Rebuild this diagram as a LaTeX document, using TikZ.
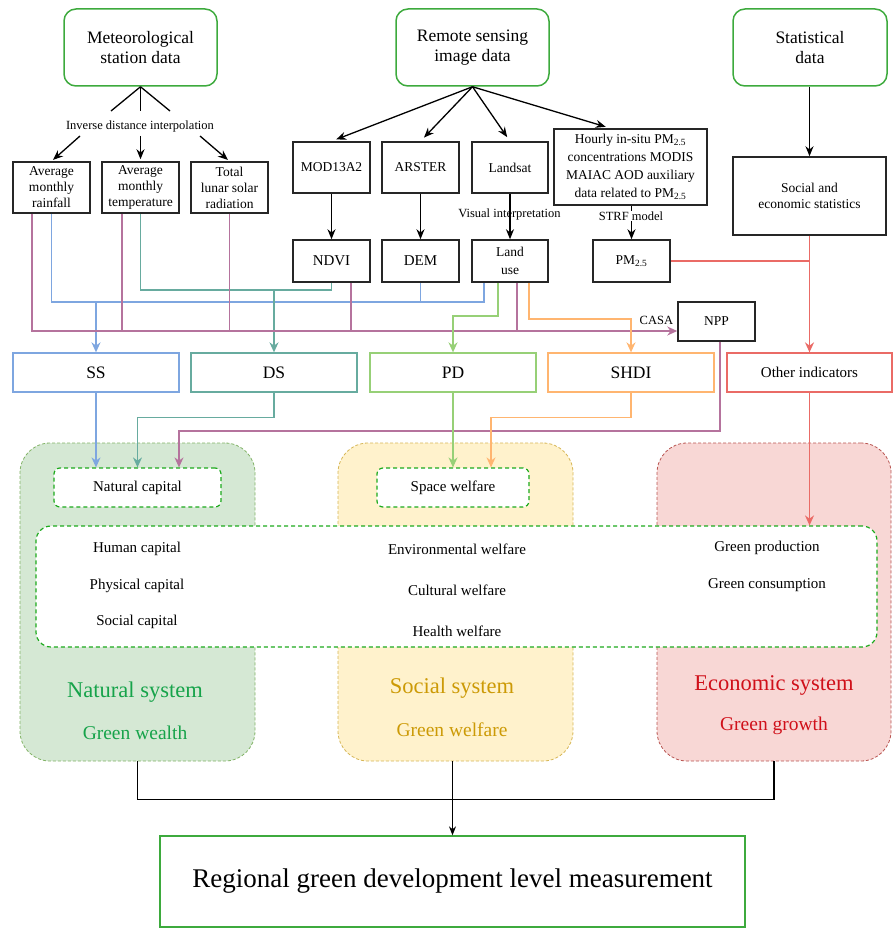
\documentclass[tikz,border=0pt]{standalone}
\usepackage{fontspec}
\setmainfont{Liberation Serif}
\usetikzlibrary{arrows.meta,calc}
\definecolor{gbox}{HTML}{3DAA3D}
\definecolor{gdash}{HTML}{1DAA1D}
\definecolor{cbl}{HTML}{7EA6E0}
\definecolor{ctl}{HTML}{67AB9F}
\definecolor{cpl}{HTML}{B5739D}
\definecolor{cgl}{HTML}{97D077}
\definecolor{col}{HTML}{FFB570}
\definecolor{crl}{HTML}{EA6B66}
\definecolor{natf}{HTML}{D5E8D4}
\definecolor{natd}{HTML}{82B366}
\definecolor{socf}{HTML}{FFF2CC}
\definecolor{socd}{HTML}{D6B656}
\definecolor{ecof}{HTML}{F8D7D5}
\definecolor{ecod}{HTML}{B85450}
\definecolor{natt}{HTML}{16A34A}
\definecolor{soct}{HTML}{CC9A06}
\definecolor{ecot}{HTML}{D0101A}
\newcommand{\fsz}[2]{\fontsize{#1}{#2}\selectfont}
\begin{document}
\begin{tikzpicture}[x=1pt,y=-1pt,
  topbox/.style={draw=gbox, line width=1.5pt, rounded corners=12pt, align=center, inner sep=0pt, font=\fsz{17.5}{20}},
  bbox/.style={draw=black!85, line width=1.5pt, align=center, inner sep=0pt, font=\fsz{13.5}{16}},
  indbox/.style={line width=1.3pt, align=center, inner sep=0pt, minimum width=166pt, minimum height=39pt, font=\fsz{17.5}{20}},
  sysbox/.style={dashed, dash pattern=on 3pt off 2pt, line width=0.8pt, rounded corners=30pt, minimum width=235pt, minimum height=318pt, inner sep=0pt},
  gdbox/.style={draw=gdash, dashed, dash pattern=on 4pt off 3pt, line width=1.2pt, fill=white, inner sep=0pt, font=\fsz{15}{18}},
  lbl/.style={inner sep=1pt, font=\fsz{12.5}{14}},
  intxt/.style={inner sep=0pt, font=\fsz{15}{18}},
  k/.style={draw=black, line width=1.3pt},
  arr/.style={-{Stealth[length=10pt,width=8pt]}},
  carr/.style={-{Stealth[length=10pt,width=9pt]}},
  cl/.style={line width=1.5pt}
]
\useasboundingbox (0,0) rectangle (893,928);

% ---------- system boxes ----------
\node[sysbox, draw=natd, fill=natf] (nat) at (137.5,602) {};
\node[sysbox, draw=socd, fill=socf] (socsys) at (455.5,602) {};
\node[sysbox, draw=ecod, fill=ecof, minimum width=234pt] (eco) at (774,602) {};
\node[gdbox, rounded corners=15pt, minimum width=841pt, minimum height=121pt] (mid) at (456.5,586.5) {};
\node[gdbox, rounded corners=6pt, minimum width=167pt, minimum height=39pt] (natcap) at (137.5,487.5) {Natural capital};
\node[gdbox, rounded corners=6pt, minimum width=152pt, minimum height=39pt] (spw) at (453,487.5) {Space welfare};

\node[intxt] (hc) at (137,549) {Human capital};
\node[intxt] (pc) at (137,586) {Physical capital};
\node[intxt] (sc) at (137,622) {Social capital};
\node[intxt] (ew) at (457,549) {Environmental welfare};
\node[intxt] (cw) at (457,590) {Cultural welfare};
\node[intxt] (hw) at (457,631) {Health welfare};
\node[intxt] (gp) at (767,548) {Green production};
\node[intxt] (gc) at (767,585) {Green consumption};

\node[inner sep=0pt, text=natt, font=\fsz{22.5}{26}] (nst) at (135,692) {Natural system};
\node[inner sep=0pt, text=natt, font=\fsz{19.5}{22}] (ngw) at (135,733) {Green wealth};
\node[inner sep=0pt, text=soct, font=\fsz{22.5}{26}] (sst) at (452,688) {Social system};
\node[inner sep=0pt, text=soct, font=\fsz{19.5}{22}] (sgw) at (452,730) {Green welfare};
\node[inner sep=0pt, text=ecot, font=\fsz{22.5}{26}] (est) at (774,685) {Economic system};
\node[inner sep=0pt, text=ecot, font=\fsz{19.5}{22}] (egg) at (774,726) {Green growth};

\node[draw=gbox, line width=1.3pt, minimum width=585pt, minimum height=91pt, inner sep=0pt, font=\fsz{27}{30}] (reg) at (452.5,881.5) {Regional green development level measurement};

% ---------- top ----------
\node[topbox, minimum width=153pt, minimum height=77pt] (met) at (140.5,47.5) {Meteorological\\station data};
\node[topbox, minimum width=153pt, minimum height=77pt] (rs) at (472.5,47.5) {Remote sensing\\image data};
\node[topbox, minimum width=154pt, minimum height=77pt] (stat) at (810,47.5) {Statistical\\data};

\node[lbl] (idi) at (140,126) {Inverse distance interpolation};
\node[bbox, minimum width=77pt, minimum height=51pt] (rain) at (51.5,187.5) {Average\\monthly\\rainfall};
\node[bbox, minimum width=77pt, minimum height=51pt] (temp) at (140.5,187.5) {Average\\monthly\\temperature};
\node[bbox, minimum width=77pt, minimum height=51pt] (rad) at (229.5,187.5) {Total\\lunar solar\\radiation};

\node[bbox, minimum width=77pt, minimum height=51pt] (mod) at (331.5,167.5) {MOD13A2};
\node[bbox, minimum width=77pt, minimum height=51pt] (ars) at (420.5,167.5) {ARSTER};
\node[bbox, minimum width=76pt, minimum height=51pt] (lsat) at (510,167.5) {Landsat};
\node[bbox, minimum width=153pt, minimum height=76pt, font=\fsz{13.5}{18}] (hour) at (630.5,167) {Hourly in-situ PM\textsubscript{2.5}\\concentrations MODIS\\MAIAC AOD auxiliary\\data related to PM\textsubscript{2.5}};
\node[bbox, minimum width=153pt, minimum height=78pt] (soc) at (809.5,196) {Social and\\economic statistics};

\node[bbox, minimum width=77pt, minimum height=42pt, font=\fsz{15}{18}] (ndvi) at (331.5,261) {NDVI};
\node[bbox, minimum width=77pt, minimum height=42pt, font=\fsz{15}{18}] (dem) at (420.5,261) {DEM};
\node[bbox, minimum width=76pt, minimum height=42pt, font=\fsz{13.5}{18}] (lu) at (510,261) {Land\\use};
\node[bbox, minimum width=77pt, minimum height=42pt] (pm) at (631.5,261) {PM\textsubscript{2.5}};
\node[bbox, minimum width=77pt, minimum height=39pt] (npp) at (716.5,321.5) {NPP};
\node[lbl, anchor=east] (casa) at ($(npp.west)+(-3,-1)$) {CASA};

\node[indbox, draw=cbl] (ss) at (96,372.5) {SS};
\node[indbox, draw=ctl] (ds) at (274,372.5) {DS};
\node[indbox, draw=cgl] (pd) at (453,372.5) {PD};
\node[indbox, draw=col] (shdi) at (631,372.5) {SHDI};
\node[indbox, draw=crl, minimum width=165pt, font=\fsz{15}{18}] (oth) at (809.5,372.5) {Other indicators};

% ---------- black connectors ----------
\coordinate (i1) at (111,111);
\coordinate (i2) at (140.5,111);
\coordinate (i3) at (170,111);
\draw[k] (met.south) -- (i1);
\draw[k] (met.south) -- (i2);
\draw[k] (met.south) -- (i3);
\coordinate (j1) at (80,136);
\coordinate (j2) at (140.5,136);
\coordinate (j3) at (200,136);
\draw[k,arr,shorten >=2pt] (j1) -- (rain.north);
\draw[k,arr,shorten >=2pt] (j2) -- (temp.north);
\draw[k,arr,shorten >=2pt] (j3) -- (rad.north);

\coordinate (h1) at ($(hour.north)+(-20,0)$);
\draw[k,arr,shorten >=5pt] (rs.south) -- (mod.north);
\draw[k,arr,shorten >=5pt] (rs.south) -- (ars.north);
\draw[k,arr,shorten >=5pt] (rs.south) -- (lsat.north);
\draw[k,arr,shorten >=5pt] (rs.south) -- (h1);
\draw[k,arr] (mod.south) -- (ndvi.north);
\draw[k,arr] (ars.south) -- (dem.north);
\draw[k,arr] (lsat.south) -- (lu.north);
\draw[k,arr] (pm.north |- hour.south) -- (pm.north);
\draw[k,arr] (soc.north |- stat.south) -- (soc.north);
\node[lbl] (vis) at (509.5,214) {Visual interpretation};
\node[lbl, fill=white] (strf) at (631,216) {STRF model};

% ---------- coloured connectors ----------
\coordinate (bj) at (96,302);
\coordinate (tj) at (274,290);
\coordinate (pj) at (32,331);
\coordinate (lub) at ($(lu.south)+(-26,0)$);
\draw[cl, cbl] (rain.south) |- (lub |- bj) -- (lub);
\draw[cl, cbl] (dem.south) -- (dem.south |- bj);
\draw[cl, cbl, carr] (bj) -- (ss.north);

\draw[cl, ctl] (temp.south) |- (ndvi.south |- tj) -- (ndvi.south);
\draw[cl, ctl, carr] (tj) -- (ds.north);

\coordinate (p1) at ($(rain.south)+(-19.5,0)$);
\coordinate (p2) at ($(temp.south)+(-18.5,0)$);
\coordinate (p4) at ($(ndvi.south)+(19.5,0)$);
\coordinate (p5) at ($(lu.south)+(7,0)$);
\draw[cl, cpl, carr] (p1) |- (npp.west |- pj);
\draw[cl, cpl] (p2) -- (p2 |- pj);
\draw[cl, cpl] (rad.south) -- (rad.south |- pj);
\draw[cl, cpl] (p4) -- (p4 |- pj);
\draw[cl, cpl] (p5) -- (p5 |- pj);

\coordinate (g1) at ($(lu.south)+(-12,0)$);
\draw[cl, cgl, carr] (g1) -- ++(0,33) -| (pd.north);
\coordinate (o1) at ($(lu.south)+(19,0)$);
\draw[cl, col, carr] (o1) -- ++(0,36) -| (shdi.north);

\draw[cl, crl, carr] (soc.south) -- (oth.north);
\draw[cl, crl] (pm.east) -- (pm.east -| soc.south);

\draw[cl, cbl, carr] (ss.south) -- (ss.south |- natcap.north);
\draw[cl, ctl, carr] (ds.south) -- ++(0,25) -| (natcap.north);
\coordinate (n1) at ($(npp.south)+(3.5,0)$);
\coordinate (n2) at ($(natcap.north)+(41.5,0)$);
\draw[cl, cpl, carr] (n1) -- ++(0,89) -| (n2);
\draw[cl, cgl, carr] (pd.south) -- (pd.south |- spw.north);
\coordinate (o2) at ($(spw.north)+(38,0)$);
\draw[cl, col, carr] (shdi.south) -- ++(0,25) -| (o2);
\draw[cl, crl, carr] (oth.south) -- (oth.south |- mid.north);

% ---------- bottom ----------
\draw[draw=black, line width=1.2pt] (nat.south) -- ++(0,38) -| (eco.south);
\draw[draw=black, line width=1.2pt, -{Stealth[length=9pt,width=7pt]}] (socsys.south -| reg.north) -- (reg.north);
\end{tikzpicture}
\end{document}
